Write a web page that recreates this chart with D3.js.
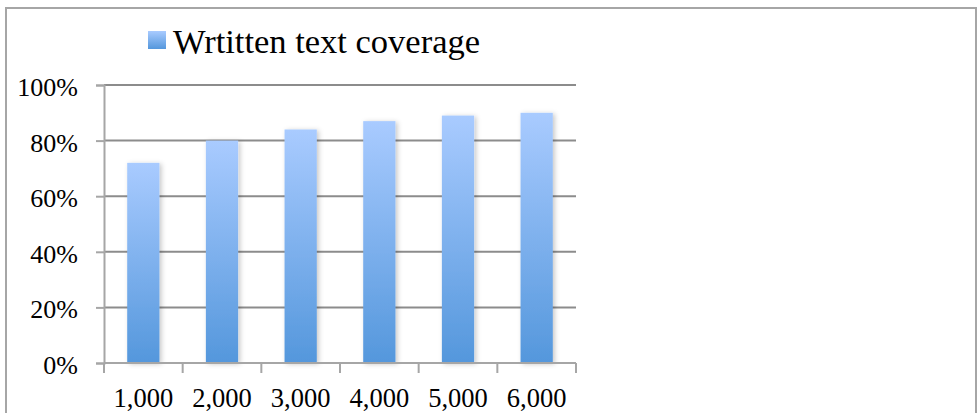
<!DOCTYPE html>
<html>
<head>
<meta charset="utf-8">
<script src="https://cdn.jsdelivr.net/npm/d3@7"></script>
<style>
  html, body { margin: 0; padding: 0; background: #fff; }
  text { font-family: "Liberation Serif", "DejaVu Serif", serif; fill: #000; }
</style>
</head>
<body>
<svg id="chart"></svg>
<script>
/* Data */
const categories = ["1,000", "2,000", "3,000", "4,000", "5,000", "6,000"];
const coverage = [72, 80, 84, 87, 89, 90];
const yTicks = [0, 20, 40, 60, 80, 100];
const seriesName = "Wrtitten text coverage";

/* Size */
const width = 980, height = 413;
const plot = { left: 104, right: 576, top: 85, bottom: 363 };

const svg = d3.select("#chart")
    .attr("width", width)
    .attr("height", height);

/* Gradient + shadow */
const defs = svg.append("defs");
const grad = defs.append("linearGradient")
    .attr("id", "barGrad")
    .attr("x1", 0).attr("y1", 0).attr("x2", 0).attr("y2", 1);
grad.append("stop").attr("offset", "0%").attr("stop-color", "#a9cbff");
grad.append("stop").attr("offset", "100%").attr("stop-color", "#5497dc");

const shadow = defs.append("filter").attr("id", "shadow")
    .attr("x", "-20%").attr("y", "-10%").attr("width", "160%").attr("height", "130%");
shadow.append("feDropShadow")
    .attr("dx", 2).attr("dy", 1).attr("stdDeviation", 2.5)
    .attr("flood-color", "#000").attr("flood-opacity", 0.22);

/* Outer frame (bottom edge runs off the page) */
svg.append("rect")
    .attr("x", 6).attr("y", 8)
    .attr("width", 970).attr("height", 420)
    .attr("fill", "none")
    .attr("stroke", "#a6a6a6")
    .attr("stroke-width", 2);

/* Scales */
const x = d3.scaleBand()
    .domain(categories)
    .range([plot.left, plot.right])
    .paddingInner(0.59)
    .paddingOuter(0.295);

const y = d3.scaleLinear()
    .domain([0, 100])
    .range([plot.bottom, plot.top]);

/* Gridlines */
svg.append("g")
    .selectAll("line")
    .data(yTicks)
    .join("line")
      .attr("x1", plot.left).attr("x2", plot.right)
      .attr("y1", d => y(d)).attr("y2", d => y(d))
      .attr("stroke", "#8c8c8c")
      .attr("stroke-width", 2);

/* Bars */
svg.append("g")
    .selectAll("rect")
    .data(coverage)
    .join("rect")
      .attr("x", (d, i) => x(categories[i]))
      .attr("y", d => y(d))
      .attr("width", x.bandwidth())
      .attr("height", d => y(0) - y(d))
      .attr("fill", "url(#barGrad)")
      .attr("filter", "url(#shadow)");

/* Y axis */
const yAxis = svg.append("g")
    .attr("transform", `translate(${plot.left},0)`)
    .call(d3.axisLeft(y).tickValues(yTicks).tickSize(8).tickPadding(18).tickFormat(d => d + "%"));
yAxis.select(".domain").attr("stroke", "#a6a6a6").attr("stroke-width", 2);
yAxis.selectAll(".tick line").attr("stroke", "#a6a6a6").attr("stroke-width", 2);
yAxis.selectAll(".tick text")
    .attr("font-family", "Liberation Serif, serif")
    .attr("font-size", 26)
    .attr("dy", "0.4em")
    .attr("fill", "#000");

/* X axis: ticks at category edges */
const xEdges = d3.scaleLinear().domain([0, categories.length]).range([plot.left, plot.right]);
const xAxis = svg.append("g")
    .attr("transform", `translate(0,${plot.bottom})`);
xAxis.append("line")
    .attr("x1", plot.left).attr("x2", plot.right)
    .attr("stroke", "#a6a6a6").attr("stroke-width", 2);
xAxis.selectAll(".edge")
    .data(d3.range(categories.length + 1))
    .join("line")
      .attr("class", "edge")
      .attr("x1", d => xEdges(d)).attr("x2", d => xEdges(d))
      .attr("y1", 0).attr("y2", 10)
      .attr("stroke", "#a6a6a6").attr("stroke-width", 2);
xAxis.selectAll(".lbl")
    .data(categories)
    .join("text")
      .attr("class", "lbl")
      .attr("x", d => x(d) + x.bandwidth() / 2)
      .attr("y", 44)
      .attr("text-anchor", "middle")
      .attr("font-size", 26.5)
      .text(d => d);

/* Legend */
const legend = svg.append("g").attr("transform", "translate(148,31)");
legend.append("rect")
    .attr("width", 18).attr("height", 18)
    .attr("fill", "url(#barGrad)");
legend.append("text")
    .attr("x", 25).attr("y", 22)
    .attr("font-size", 34.5)
    .text(seriesName);
</script>
</body>
</html>
